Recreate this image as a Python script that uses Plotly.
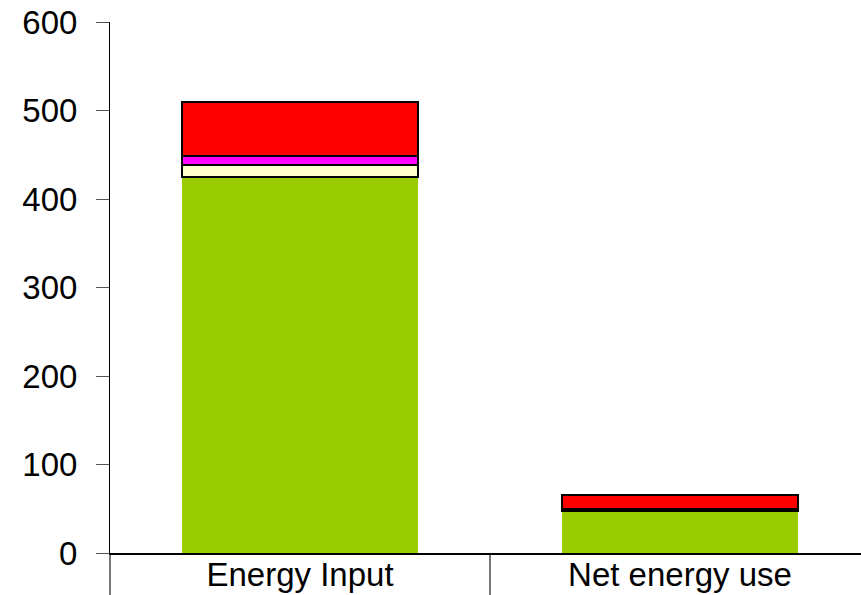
import plotly.graph_objects as go

# Stacked energy components per category
categories = ["Energy Input", "Net energy use"]
base_energy = [425, 48]
component_yellow = [13, 1]
component_magenta = [11, 1]
component_red = [61, 16]

y_ticks = [0, 100, 200, 300, 400, 500, 600]

fig = go.Figure()

fig.add_trace(go.Bar(x=categories, y=base_energy, marker=dict(color="#99CC00", line=dict(width=0))))
fig.add_trace(go.Bar(x=categories, y=component_yellow, marker=dict(color="#FFFFCC", line=dict(color="black", width=2))))
fig.add_trace(go.Bar(x=categories, y=component_magenta, marker=dict(color="#FF00FF", line=dict(color="black", width=2))))
fig.add_trace(go.Bar(x=categories, y=component_red, marker=dict(color="#FF0000", line=dict(color="black", width=2))))

fig.update_layout(
    barmode="stack",
    bargap=0.38,
    width=861,
    height=595,
    margin=dict(l=110, r=0, t=22, b=42),
    paper_bgcolor="white",
    plot_bgcolor="white",
    showlegend=False,
    font=dict(family="Liberation Sans, Arial, sans-serif", size=31, color="black"),
)

fig.update_xaxes(
    range=[-0.5, -0.5 + 751 / 380],
    automargin=False,
    showline=True,
    linecolor="black",
    linewidth=1.5,
    ticks="outside",
    tickson="boundaries",
    ticklen=45,
    tickcolor="#777777",
    tickwidth=1.5,
    ticklabelstandoff=-8,
    showgrid=False,
    tickfont=dict(size=33),
)

fig.update_yaxes(
    range=[0, 600],
    automargin=False,
    tickvals=y_ticks,
    showline=True,
    linecolor="black",
    linewidth=1,
    ticks="outside",
    ticklen=13,
    tickcolor="#555555",
    tickwidth=1,
    ticklabelstandoff=12,
    showgrid=False,
    zeroline=False,
    tickfont=dict(size=33),
)

fig.write_html("out.html")
